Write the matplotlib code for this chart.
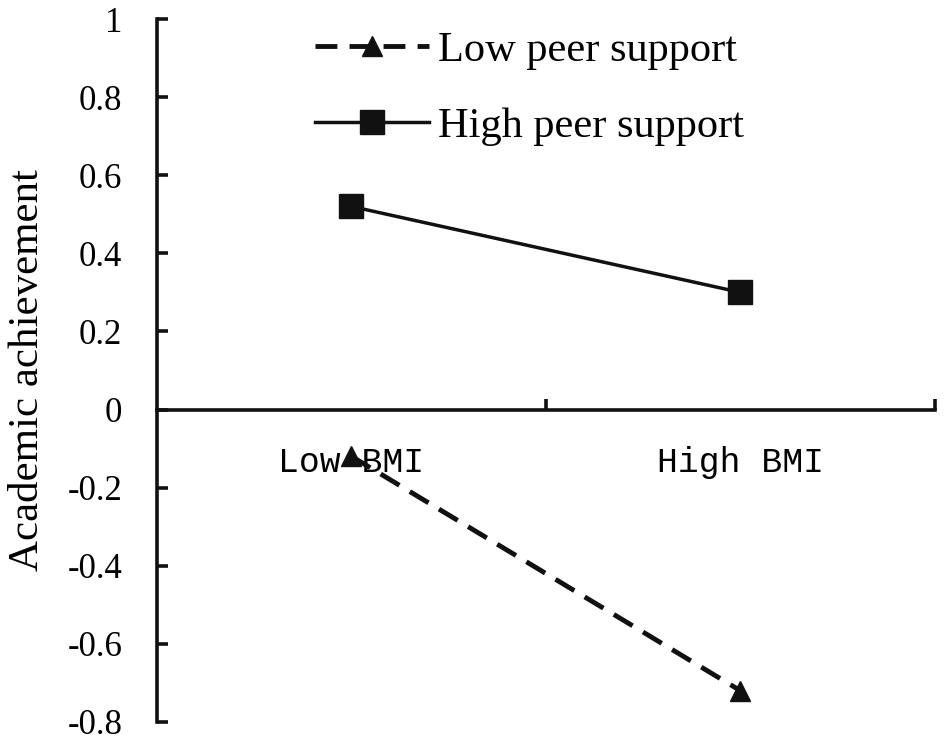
import numpy as np
import matplotlib
matplotlib.use("Agg")
from matplotlib import pyplot as plt
from matplotlib.ticker import FixedLocator

categories = ["Low BMI", "High BMI"]
low_support = [-0.12, -0.72]
high_support = [0.52, 0.30]
yticks = [-0.8, -0.6, -0.4, -0.2, 0, 0.2, 0.4, 0.6, 0.8, 1]
ytick_labels = ["-0.8", "-0.6", "-0.4", "-0.2", "0", "0.2", "0.4", "0.6", "0.8", "1"]

serif = "Liberation Serif"
mono = "Liberation Mono"
ink = "#111111"

fig = plt.figure(figsize=(9.45, 7.46), dpi=100)
ax = fig.add_axes([157/945, 24/746, (935-157)/945, (722-19)/746])

x = np.arange(len(categories))
ax.plot(x, low_support, color=ink, lw=3.5, dashes=(4.5, 2.5),
        marker="^", markersize=15, label="Low peer support", clip_on=False)
ax.plot(x, high_support, color=ink, lw=2.5,
        marker="s", markersize=17, label="High peer support", clip_on=False)

ax.set_xlim(-0.5, 1.5)
ax.set_ylim(-0.8, 1)

# axes look
for s in ["top", "right"]:
    ax.spines[s].set_visible(False)
ax.spines["bottom"].set_position(("data", 0))
for s in ["left", "bottom"]:
    ax.spines[s].set_linewidth(2.6)
    ax.spines[s].set_color(ink)

ax.set_yticks(yticks)
ax.set_yticklabels(ytick_labels, fontfamily=serif, fontsize=25)
ax.tick_params(axis="y", direction="in", length=8, width=2.6, color=ink, pad=25)

ax.set_xticks(x)
ax.set_xticklabels(categories, fontfamily=mono, fontsize=25)
ax.tick_params(axis="x", which="major", length=0, pad=26)
ax.xaxis.set_minor_locator(FixedLocator([0.5, 1.5]))
ax.tick_params(axis="x", which="minor", direction="in", length=8, width=2.6, color=ink)

ax.set_ylabel("Academic achievement", fontfamily=serif, fontsize=31)
ax.yaxis.set_label_coords(-0.142, 0.5)

ax.legend(loc="upper left", bbox_to_anchor=(315/945, 1 - 31/746),
          bbox_transform=fig.transFigure, frameon=False,
          prop={"family": serif, "size": 30.5}, handlelength=2.7,
          handletextpad=0.2, labelspacing=0.88, borderpad=0, borderaxespad=0)

fig.savefig("out.png", dpi=100)
